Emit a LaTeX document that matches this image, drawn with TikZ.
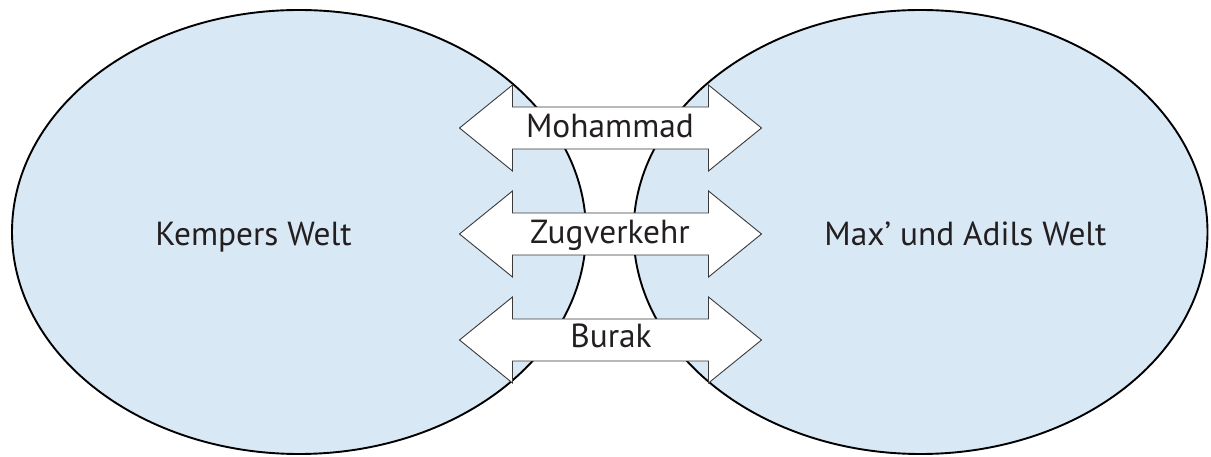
\documentclass[tikz,border=0pt]{standalone}
\usepackage{fontspec}
\setmainfont{PT Sans}
\definecolor{worldfill}{HTML}{D9E8F5}
\definecolor{inktext}{HTML}{231F20}
\definecolor{arrowline}{HTML}{3A3A3A}
\tikzset{
  world/.style={draw=black, line width=1.9bp, fill=worldfill},
  arrowbox/.style={draw=arrowline, line width=0.9bp, fill=white, line join=miter},
  lbl/.style={inner sep=0pt, anchor=base, text=inktext, font=\fontsize{33.5}{40}\selectfont},
}
\newcommand{\dblarrow}[2]{%
  \draw[arrowbox] (#1,#2) ++(-151,0) -- ++(53,-43) -- ++(0,22) -- ++(196,0) -- ++(0,-22)
    -- ++(53,43) -- ++(-53,43) -- ++(0,-22) -- ++(-196,0) -- ++(0,22) -- cycle;}
\begin{document}
\begin{tikzpicture}[x=1bp,y=-1bp]
\useasboundingbox (0,0) rectangle (1211,457);
\draw[world] (299,232) ellipse [x radius=287, y radius=222];
\draw[world] (920.5,232) ellipse [x radius=287, y radius=222];
\node[lbl] (kw) at (253.5,246) {Kempers Welt};
\node[lbl] (mw) at (965.5,246) {Max’ und Adils Welt};
\dblarrow{610.5}{128}
\dblarrow{610.5}{234}
\dblarrow{610.5}{340}
\node[lbl] (mo) at (610,138) {Mohammad};
\node[lbl] (zu) at (610,244) {Zugverkehr};
\node[lbl] (bu) at (611,348) {Burak};
\end{tikzpicture}
\end{document}
